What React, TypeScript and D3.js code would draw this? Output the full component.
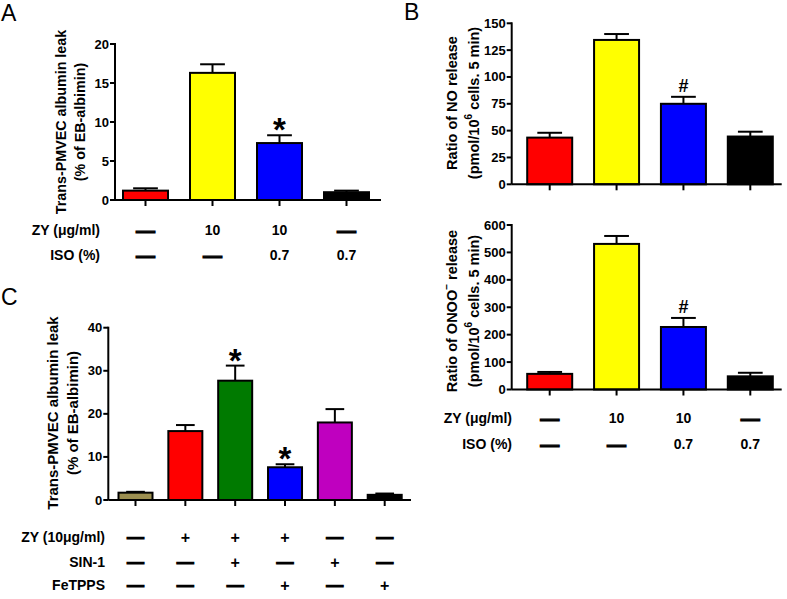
import React from 'react';
import * as d3 from 'd3';

// ---------- DATA ----------
const groupsAB = ['Control', 'ZY', 'ZY+ISO', 'ISO'];
const colorsAB = ['#FF0000', '#FFFF00', '#0000FF', '#000000'];
const leakA = [1.2, 16.3, 7.3, 1.0];
const leakAErr = [0.3, 1.1, 1.0, 0.2];
const marksA = ['', '', '*', ''];
const noB = [43.5, 134.5, 75, 44.5];
const noBErr = [4.5, 5.5, 6.5, 4.5];
const marksNO = ['', '', '#', ''];
const onooB = [57, 531, 228, 48];
const onooBErr = [7, 29, 33, 13];
const marksONOO = ['', '', '#', ''];
const zyAB = ['—', '10', '10', '—'];
const isoAB = ['—', '—', '0.7', '0.7'];

const groupsC = ['Ctrl', 'ZY', 'ZY+SIN-1', 'ZY+FeTPPS', 'SIN-1', 'FeTPPS'];
const colorsC = ['#9C8F50', '#FF0000', '#007A00', '#0000FF', '#BF00BF', '#000000'];
const leakC = [1.7, 16.0, 27.7, 7.6, 18.0, 1.2];
const leakCErr = [0.2, 1.4, 3.5, 0.7, 3.1, 0.3];
const marksC = ['', '', '*', '*', '', ''];
const zyC = ['—', '+', '+', '+', '—', '—'];
const sinC = ['—', '—', '+', '—', '+', '—'];
const fetppsC = ['—', '—', '—', '+', '—', '+'];

const ticksA = [0, 5, 10, 15, 20];
const ticksNO = [0, 25, 50, 75, 100, 125, 150];
const ticksONOO = [0, 100, 200, 300, 400, 500, 600];
const ticksC = [0, 10, 20, 30, 40];

const FONT = '"Liberation Sans", Arial, Helvetica, sans-serif';

type PanelProps = {
  groups: string[];
  values: number[];
  errs: number[];
  colors: string[];
  marks: string[];
  ticks: number[];
  yBottom: number;
  yTop: number;
  axisLeft: number;
  axisRight: number;
  c0: number;
  c1: number;
  bw: number;
  title1: React.ReactNode;
  title2: React.ReactNode;
  t1x: number;
  t2x: number;
  tcy: number;
  titleSize: number;
};

function Panel(p: PanelProps) {
  const y = d3.scaleLinear().domain([p.ticks[0], p.ticks[p.ticks.length - 1]]).range([p.yBottom, p.yTop]);
  const x = d3.scalePoint<string>().domain(p.groups).range([p.c0, p.c1]);
  const cw = p.bw * 0.55;
  return (
    <g>
      {p.groups.map((g, i) => {
        const cx = x(g)!;
        const v = p.values[i];
        const e = p.errs[i];
        const ye = y(v + e);
        return (
          <g key={g}>
            <line x1={cx} x2={cx} y1={y(v)} y2={ye} stroke="#000" strokeWidth={2} />
            <line x1={cx - cw / 2} x2={cx + cw / 2} y1={ye} y2={ye} stroke="#000" strokeWidth={2} />
            <rect x={cx - p.bw / 2} y={y(v)} width={p.bw} height={p.yBottom - y(v)} fill={p.colors[i]} stroke="#000" strokeWidth={2} />
            {p.marks[i] === '*' && (
              <text x={cx} y={ye + 6} textAnchor="middle" fontSize={33} fontWeight="bold" fontFamily={FONT}>*</text>
            )}
            {p.marks[i] === '#' && (
              <text x={cx} y={ye - 4.5} textAnchor="middle" fontSize={18} fontWeight="bold" fontFamily={FONT}>#</text>
            )}
            <line x1={cx} x2={cx} y1={p.yBottom} y2={p.yBottom + 6} stroke="#000" strokeWidth={2} />
          </g>
        );
      })}
      <line x1={p.axisLeft} x2={p.axisLeft} y1={p.yBottom} y2={p.yTop - 1} stroke="#000" strokeWidth={2} />
      <line x1={p.axisLeft} x2={p.axisRight} y1={p.yBottom} y2={p.yBottom} stroke="#000" strokeWidth={2} />
      {p.ticks.map((t) => (
        <g key={t}>
          <line x1={p.axisLeft - 5} x2={p.axisLeft} y1={y(t)} y2={y(t)} stroke="#000" strokeWidth={2} />
          <text x={p.axisLeft - 6} y={y(t)} textAnchor="end" dominantBaseline="central" fontSize={13} fontWeight="bold" fontFamily={FONT}>{t}</text>
        </g>
      ))}
      <text transform={`translate(${p.t1x},${p.tcy}) rotate(-90)`} textAnchor="middle" dominantBaseline="central" fontSize={p.titleSize} fontWeight="bold" fontFamily={FONT}>{p.title1}</text>
      <text transform={`translate(${p.t2x},${p.tcy}) rotate(-90)`} textAnchor="middle" dominantBaseline="central" fontSize={p.titleSize} fontWeight="bold" fontFamily={FONT}>{p.title2}</text>
    </g>
  );
}

type TableProps = {
  groups: string[];
  c0: number;
  c1: number;
  labelRight: number;
  rows: { label: string; y: number; vals: string[] }[];
  dashSize: number;
};

function Table(p: TableProps) {
  const x = d3.scalePoint<string>().domain(p.groups).range([p.c0, p.c1]);
  return (
    <g fontFamily={FONT} fontWeight="bold">
      {p.rows.map((r) => (
        <g key={r.label}>
          <text x={p.labelRight} y={r.y} textAnchor="end" dominantBaseline="central" fontSize={14}>{r.label}</text>
          {r.vals.map((v, i) =>
            v === '—' ? (
              <text key={i} x={x(p.groups[i])!} y={r.y} textAnchor="middle" dominantBaseline="central" fontSize={p.dashSize} stroke="#000" strokeWidth={1.1}>—</text>
            ) : (
              <text key={i} x={x(p.groups[i])!} y={r.y} textAnchor="middle" dominantBaseline="central" fontSize={v === '+' ? 16 : 14}>{v}</text>
            )
          )}
        </g>
      ))}
    </g>
  );
}

const sup = (s: string) => <tspan baselineShift="super" fontSize="70%">{s}</tspan>;

export default function App() {
  return (
    <svg width={787} height={599} style={{ position: 'absolute', left: 0, top: 0, background: '#fff' }}>
      <rect width={787} height={599} fill="#fff" />
      <text x={1} y={21} fontSize={23} fontFamily={FONT}>A</text>
      <text x={404} y={20} fontSize={23} fontFamily={FONT}>B</text>
      <text x={1} y={305} fontSize={23} fontFamily={FONT}>C</text>

      <Panel groups={groupsAB} values={leakA} errs={leakAErr} colors={colorsAB} marks={marksA} ticks={ticksA}
        yBottom={200} yTop={44} axisLeft={115} axisRight={381} c0={145.5} c1={346.5} bw={45}
        title1="Trans-PMVEC albumin leak" title2="(% of EB-albimin)" t1x={61} t2x={80} tcy={122} titleSize={14.3} />
      <Table groups={groupsAB} c0={145.5} c1={346.5} labelRight={100} dashSize={19}
        rows={[{ label: 'ZY (μg/ml)', y: 230, vals: zyAB }, { label: 'ISO (%)', y: 255, vals: isoAB }]} />

      <Panel groups={groupsAB} values={noB} errs={noBErr} colors={colorsAB} marks={marksNO} ticks={ticksNO}
        yBottom={184.3} yTop={23.3} axisLeft={511.7} axisRight={781.7} c0={549.7} c1={750.3} bw={45}
        title1="Ratio of NO release" title2={<>(pmol/10{sup('6')} cells. 5 min)</>} t1x={452} t2x={474} tcy={103} titleSize={14.5} />
      <Panel groups={groupsAB} values={onooB} errs={onooBErr} colors={colorsAB} marks={marksONOO} ticks={ticksONOO}
        yBottom={389.5} yTop={225} axisLeft={511.7} axisRight={781.7} c0={549.7} c1={750.3} bw={45}
        title1={<>Ratio of ONOO{sup('−')} release</>} title2={<>(pmol/10{sup('6')} cells. 5 min)</>} t1x={452} t2x={474} tcy={311} titleSize={14.5} />
      <Table groups={groupsAB} c0={549.7} c1={750.3} labelRight={512} dashSize={19}
        rows={[{ label: 'ZY (μg/ml)', y: 418, vals: zyAB }, { label: 'ISO (%)', y: 444, vals: isoAB }]} />

      <Panel groups={groupsC} values={leakC} errs={leakCErr} colors={colorsC} marks={marksC} ticks={ticksC}
        yBottom={500} yTop={327.7} axisLeft={108.3} axisRight={411} c0={135.5} c1={384.7} bw={34}
        title1="Trans-PMVEC albumin leak" title2="(% of EB-albimin)" t1x={52} t2x={72} tcy={413} titleSize={15} />
      <Table groups={groupsC} c0={135.5} c1={384.7} labelRight={105} dashSize={17}
        rows={[{ label: 'ZY (10μg/ml)', y: 537, vals: zyC }, { label: 'SIN-1', y: 562, vals: sinC }, { label: 'FeTPPS', y: 585, vals: fetppsC }]} />
    </svg>
  );
}
